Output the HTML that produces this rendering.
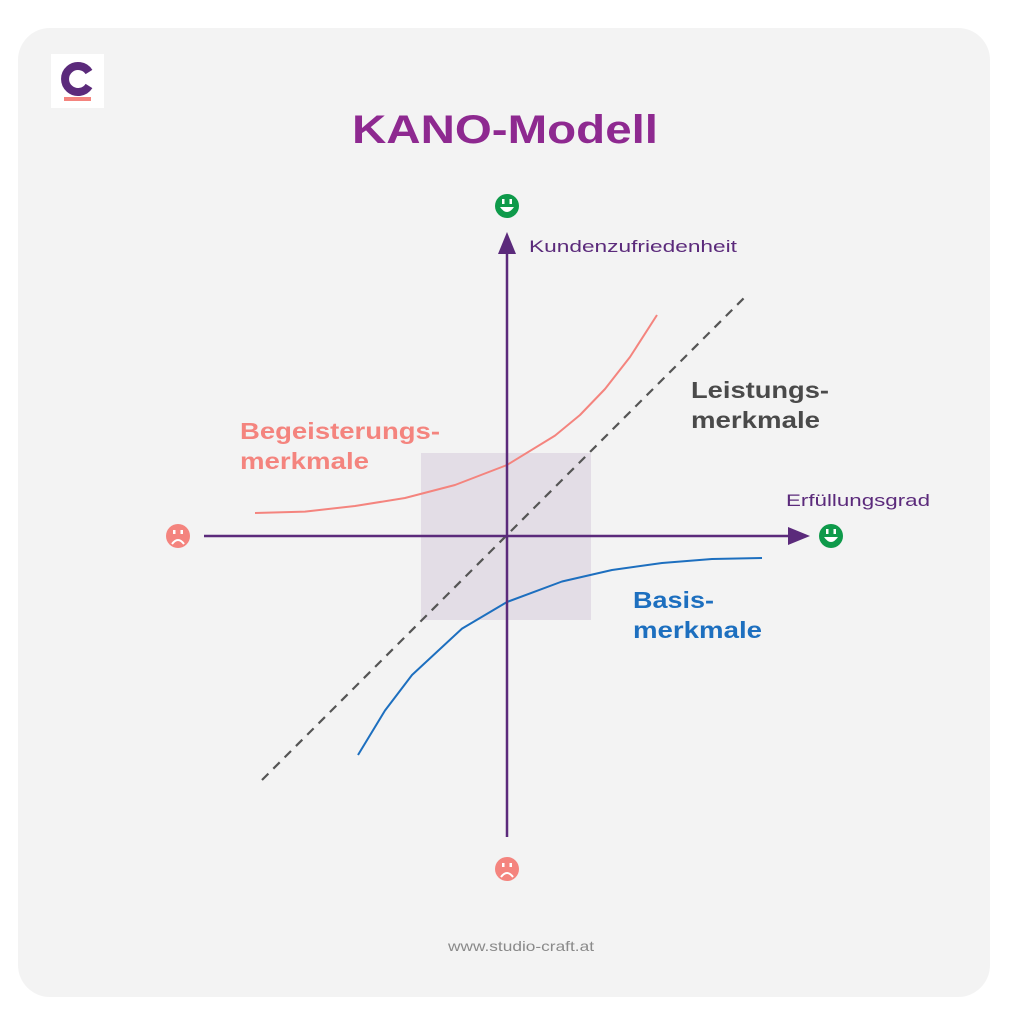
<!DOCTYPE html>
<html><head><meta charset="utf-8"><style>
body{margin:0;background:#fff;}
</style></head><body>
<svg width="1014" height="1024" viewBox="0 0 1014 1024" xmlns="http://www.w3.org/2000/svg" font-family="Liberation Sans, sans-serif">
<rect x="18" y="28" width="972" height="969" rx="32" fill="#f3f3f3"/>
<rect x="51" y="54" width="53" height="54" fill="#fff"/>
<path d="M89,72 A13,13 0 1 0 89,86" fill="none" stroke="#5b2a7b" stroke-width="8"/>
<rect x="64" y="97" width="27" height="4" fill="#f4847e"/>
<text x="352" y="143" font-size="40" font-weight="bold" fill="#8e2990" textLength="306" lengthAdjust="spacingAndGlyphs">KANO-Modell</text>
<rect x="421" y="453" width="170" height="167" fill="#e3dde6"/>
<line x1="262" y1="780" x2="746" y2="296" stroke="#555" stroke-width="2.2" stroke-dasharray="9,7"/>
<polyline points="255,513 305,511.6 355,506 405,498 455,485 507,465 555,435.6 580,415 605,389 630,357 657,315" fill="none" stroke="#f4847e" stroke-width="2" stroke-linejoin="round"/>
<polyline points="762,558 712,559 662,563 612,570 562,581.5 507,602 462,628.6 412,675 385,710.5 358,755" fill="none" stroke="#1d6fbf" stroke-width="2" stroke-linejoin="round"/>
<line x1="507" y1="250" x2="507" y2="837" stroke="#5b2a7b" stroke-width="2.5"/>
<polygon points="507,232 498,254 516,254" fill="#5b2a7b"/>
<line x1="204" y1="536" x2="792" y2="536" stroke="#5b2a7b" stroke-width="2.5"/>
<polygon points="810,536 788,527 788,545" fill="#5b2a7b"/>
<text x="529" y="252" font-size="17" fill="#5b2a7b" textLength="208" lengthAdjust="spacingAndGlyphs">Kundenzufriedenheit</text>
<text x="786" y="506" font-size="17" fill="#5b2a7b" textLength="144" lengthAdjust="spacingAndGlyphs">Erfüllungsgrad</text>
<text x="240" y="439" font-size="23" font-weight="bold" fill="#f4847e" textLength="200" lengthAdjust="spacingAndGlyphs">Begeisterungs-</text>
<text x="240" y="469" font-size="23" font-weight="bold" fill="#f4847e" textLength="129" lengthAdjust="spacingAndGlyphs">merkmale</text>
<text x="691" y="398" font-size="23" font-weight="bold" fill="#4a4a4a" textLength="138" lengthAdjust="spacingAndGlyphs">Leistungs-</text>
<text x="691" y="428" font-size="23" font-weight="bold" fill="#4a4a4a" textLength="129" lengthAdjust="spacingAndGlyphs">merkmale</text>
<text x="633" y="608" font-size="23" font-weight="bold" fill="#1d6fbf" textLength="81" lengthAdjust="spacingAndGlyphs">Basis-</text>
<text x="633" y="638" font-size="23" font-weight="bold" fill="#1d6fbf" textLength="129" lengthAdjust="spacingAndGlyphs">merkmale</text>
<circle cx="507" cy="206" r="12" fill="#0e9a4a"/>
<rect x="502" y="199" width="2.5" height="5" fill="#fff"/><rect x="509.5" y="199" width="2.5" height="5" fill="#fff"/>
<path d="M500,207 Q507,217 514,207 Z" fill="#fff"/>
<circle cx="831" cy="536" r="12" fill="#0e9a4a"/>
<rect x="826" y="529" width="2.5" height="5" fill="#fff"/><rect x="833.5" y="529" width="2.5" height="5" fill="#fff"/>
<path d="M824,537 Q831,547 838,537 Z" fill="#fff"/>
<circle cx="178" cy="536" r="12" fill="#f4847e"/>
<rect x="173" y="530" width="2.5" height="4" fill="#fff"/><rect x="180.5" y="530" width="2.5" height="4" fill="#fff"/>
<path d="M172,544 Q178,536 184,544" fill="none" stroke="#fff" stroke-width="2"/>
<circle cx="507" cy="869" r="12" fill="#f4847e"/>
<rect x="502" y="863" width="2.5" height="4" fill="#fff"/><rect x="509.5" y="863" width="2.5" height="4" fill="#fff"/>
<path d="M501,877 Q507,869 513,877" fill="none" stroke="#fff" stroke-width="2"/>
<text x="448" y="951" font-size="14" fill="#8a8a8a" textLength="146" lengthAdjust="spacingAndGlyphs">www.studio-craft.at</text>
</svg>
</body></html>
